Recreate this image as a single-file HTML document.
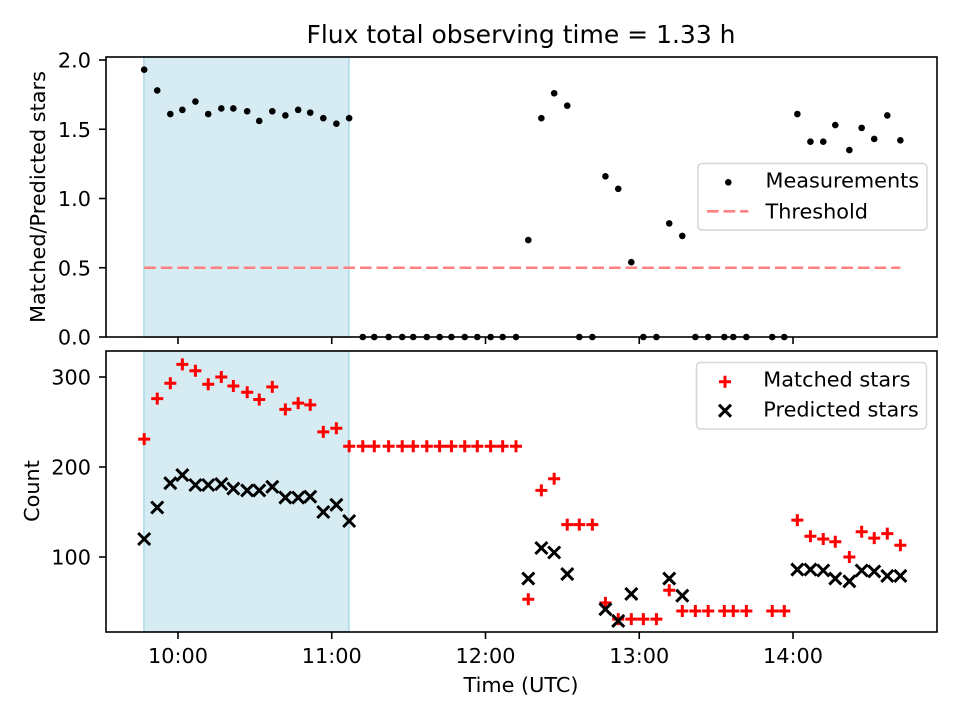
<!DOCTYPE html>
<html><head><meta charset="utf-8"><style>
html,body{margin:0;padding:0;background:#fff;}
svg{display:block;font-family:"DejaVu Sans","Liberation Sans",sans-serif;}
</style></head><body>
<svg id="chart" width="960" height="720" viewBox="0 0 960 720" xmlns="http://www.w3.org/2000/svg">
<rect width="960" height="720" fill="#fff"/>
<text x="521" y="43" font-size="25" text-anchor="middle" fill="#000">Flux total observing time = 1.33 h</text>
<g id="topPanel"></g><g id="botPanel"></g>
<text transform="translate(45,197) rotate(-90)" font-size="20.8" text-anchor="middle" fill="#000">Matched/Predicted stars</text>
<text transform="translate(39,491) rotate(-90)" font-size="20.8" text-anchor="middle" fill="#000">Count</text>
<text x="521" y="692" font-size="20.8" text-anchor="middle" fill="#000">Time (UTC)</text>
<g>
<rect x="698" y="163.5" width="229" height="66.5" rx="4" fill="#fff" fill-opacity="0.8" stroke="#d6d6d6" stroke-width="1.5"/>
<circle cx="728.3" cy="182.3" r="3.3" fill="#000"/>
<text x="765.5" y="187.5" font-size="20.8" fill="#000">Measurements</text>
<line x1="707" y1="211.3" x2="748.3" y2="211.3" stroke="#ff8080" stroke-width="2.6" stroke-dasharray="11.6,5"/>
<text x="765.5" y="218.5" font-size="20.8" fill="#000">Threshold</text>
</g>
<g>
<rect x="696.5" y="362.5" width="230" height="66.5" rx="4" fill="#fff" fill-opacity="0.8" stroke="#d6d6d6" stroke-width="1.5"/>
<path d="M719,381.7h12M725,375.7v12" stroke="#f00" stroke-width="3"/>
<text x="763.3" y="386.5" font-size="20.8" fill="#000">Matched stars</text>
<path d="M719,404.7l12,12M731,404.7l-12,12" stroke="#000" stroke-width="3"/>
<text x="763.3" y="416.5" font-size="20.8" fill="#000">Predicted stars</text>
</g>
</svg>
<script>
const times=[586.8,591.9,597.0,601.7,606.8,611.8,616.9,621.6,627.0,631.7,636.8,641.9,646.9,651.6,656.7,661.8,666.8,672.1,676.6,682.2,687.5,691.8,697.1,702.1,706.7,711.9,716.8,722.0,726.7,731.9,736.7,741.8,746.8,751.9,756.6,761.7,766.8,771.8,776.9,781.6,786.7,791.7,796.8,801.9,806.9,813.2,816.7,821.8,831.9,836.6,841.7,846.8,851.8,856.5,862.0,866.8,871.7,876.8,881.9];
const ratio=[1.93,1.78,1.61,1.64,1.70,1.61,1.65,1.65,1.63,1.56,1.63,1.60,1.64,1.62,1.58,1.54,1.58,0,0,0,0,0,0,0,0,0,0,0,0,0,0.70,1.58,1.76,1.67,0,0,1.16,1.07,0.54,0,0,0.82,0.73,0,0,0,0,0,0,0,1.61,1.41,1.41,1.53,1.35,1.51,1.43,1.60,1.42];
const matched=[231,276,293,314,307,292,300,290,283,275,289,264,271,269,239,243,223,223,223,223,223,223,223,223,223,223,223,223,223,223,53,174,187,136,136,136,49,31,31,31,31,63,40,40,40,40,40,40,40,40,141,123,120,117,100,128,121,126,113];
const predicted=[120,155,182,191,180,180,181,176,174,174,178,166,166,167,150,158,140,null,null,null,null,null,null,null,null,null,null,null,null,null,76,110,105,81,null,null,42,29,59,null,null,76,57,null,null,null,null,null,null,null,86,86,85,76,73,85,84,79,79];
const threshold=[0.5];
const shadeSpan=[586.7,666.7];
const xTickVals=[600,660,720,780,840];
const xTickLabels=["10:00","11:00","12:00","13:00","14:00"];
const topTicks=[0,0.5,1.0,1.5,2.0];
const topTickLabels=["0.0","0.5","1.0","1.5","2.0"];
const botTicks=[100,200,300];
const botTickLabels=["100","200","300"];

const NS="http://www.w3.org/2000/svg";
const L=106,R=937,T1=57,B1=337,T2=351,B2=632;
const xS=t=>178+(t-600)*2.5625;
const yT=v=>337-v*138.5;
const yB=c=>557-(c-100)*0.9;
function mk(tag,attrs,parent){const e=document.createElementNS(NS,tag);for(const k in attrs)e.setAttribute(k,attrs[k]);parent.appendChild(e);return e;}
const gTop=document.getElementById('topPanel'),gBot=document.getElementById('botPanel');

function shade(g,t,b){
  const r=mk('rect',{x:xS(shadeSpan[0]),y:t,width:xS(shadeSpan[1])-xS(shadeSpan[0]),height:b-t,fill:'#add8e6','fill-opacity':0.5,stroke:'#add8e6','stroke-width':1.5},g);
  
  
}
shade(gTop,T1,B1);shade(gBot,T2,B2);

const th=mk('line',{x1:xS(times[0]),x2:xS(times[times.length-1]),y1:yT(threshold[0]),y2:yT(threshold[0]),stroke:'#ff8080','stroke-width':2.6,'stroke-dasharray':'11.6,5'},gTop);



times.forEach((t,i)=>{
  const c=mk('circle',{cx:xS(t),cy:yT(ratio[i]),r:3.3,fill:'#000'},gTop);
  
  
});
times.forEach((t,i)=>{
  const px=xS(t),py=yB(matched[i]);
  const p=mk('path',{d:`M${px-6},${py}h12M${px},${py-6}v12`,stroke:'#f00','stroke-width':3},gBot);
  
  
  if(predicted[i]!==null){
    const qy=yB(predicted[i]);
    const q=mk('path',{d:`M${px-6},${qy-6}l12,12M${px+6},${qy-6}l-12,12`,stroke:'#000','stroke-width':3},gBot);
    
    
  }
});

function frame(g,t,b,labels,name){
  const f=mk('rect',{x:L,y:t,width:R-L,height:b-t,fill:'none',stroke:'#000','stroke-width':1.6},g);
  
  
  xTickVals.forEach((v,i)=>{
    mk('line',{x1:xS(v),x2:xS(v),y1:b,y2:b+7,stroke:'#000','stroke-width':1.6},g);
    if(labels){
      const tx=mk('text',{x:xS(v),y:663,'font-size':20.8,'text-anchor':'middle',fill:'#000'},g);
      tx.textContent=xTickLabels[i];
      
      
    }
  });
}
frame(gTop,T1,B1,false,'top-axes');
frame(gBot,T2,B2,true,'bottom-axes');
topTicks.forEach((v,i)=>{
  mk('line',{x1:L-7,x2:L,y1:yT(v),y2:yT(v),stroke:'#000','stroke-width':1.6},gTop);
  const tx=mk('text',{x:91,y:yT(v)+7.5,'font-size':20.8,'text-anchor':'end',fill:'#000'},gTop);
  tx.textContent=topTickLabels[i];
  
  
});
botTicks.forEach((v,i)=>{
  mk('line',{x1:L-7,x2:L,y1:yB(v),y2:yB(v),stroke:'#000','stroke-width':1.6},gBot);
  const tx=mk('text',{x:91,y:yB(v)+7.5,'font-size':20.8,'text-anchor':'end',fill:'#000'},gBot);
  tx.textContent=botTickLabels[i];
  
  
});
</script>
</body></html>
